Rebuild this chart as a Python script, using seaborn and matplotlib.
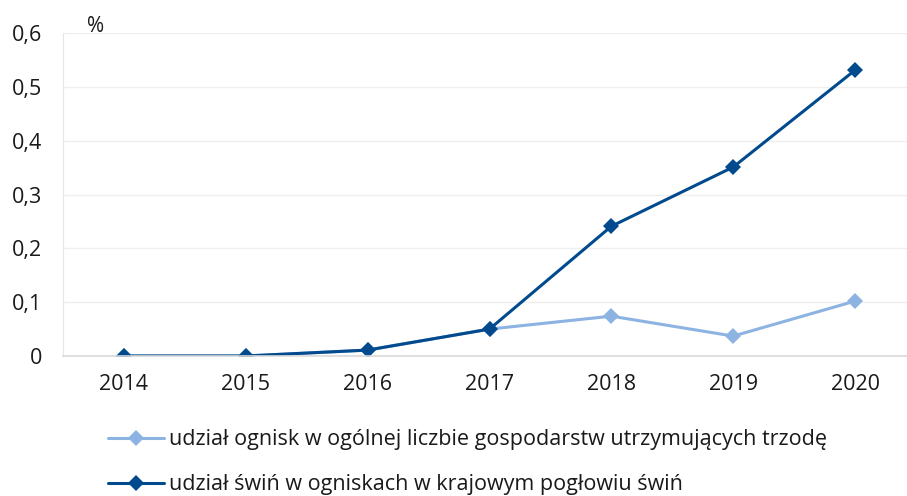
import matplotlib
matplotlib.use("Agg")
import matplotlib.pyplot as plt
import seaborn as sns
import pandas as pd
from matplotlib.lines import Line2D

years = ["2014", "2015", "2016", "2017", "2018", "2019", "2020"]
share_outbreaks = [0.0, 0.0, 0.011, 0.05, 0.074, 0.037, 0.102]
share_pigs = [0.0, 0.0, 0.011, 0.05, 0.241, 0.351, 0.531]
series_names = [
    "udział ognisk w ogólnej liczbie gospodarstw utrzymujących trzodę",
    "udział świń w ogniskach w krajowym pogłowiu świń",
]
yticks = [0, 0.1, 0.2, 0.3, 0.4, 0.5, 0.6]
ytick_labels = ["0", "0,1", "0,2", "0,3", "0,4", "0,5", "0,6"]

light = "#8DB3E2"
dark = "#004A8D"

df = pd.DataFrame({
    "rok": years * 2,
    "x": list(range(len(years))) * 2,
    "wartosc": share_outbreaks + share_pigs,
    "seria": [series_names[0]] * len(years) + [series_names[1]] * len(years),
})

sns.set_style("white")
plt.rcParams["font.family"] = ["Open Sans", "DejaVu Sans"]

fig = plt.figure(figsize=(9.07, 4.96), dpi=100)
ax = fig.add_axes([63 / 907, 1 - 356 / 496, (916 - 63) / 907, (356 - 33) / 496])

sns.lineplot(data=df, x="x", y="wartosc", hue="seria", palette=[light, dark],
             style="seria", markers=["D", "D"], dashes=False, markersize=8,
             markeredgewidth=0, linewidth=2.2, ax=ax, legend=False)

ax.set_xlim(-0.5, 6.5)
ax.set_ylim(0, 0.6)
ax.set_xticks(range(len(years)))
ax.set_xticklabels(years)
ax.set_yticks(yticks)
ax.set_yticklabels(ytick_labels)
ax.tick_params(axis="both", length=0, labelsize=15.5, colors="#1a1a1a")
ax.tick_params(axis="y", pad=15)
ax.tick_params(axis="x", pad=13)
ax.set_xlabel("")
ax.set_ylabel("")
ax.grid(axis="y", color="#EFEFEF", linewidth=1)
ax.set_axisbelow(True)
for s in ["top", "right"]:
    ax.spines[s].set_visible(False)
ax.spines["left"].set_color("#E6E6E6")
ax.spines["bottom"].set_color("#D9D9D9")
ax.spines["bottom"].set_linewidth(1.2)

fig.text(87 / 907, 1 - 26 / 496, "%", fontsize=15, va="center", ha="left", color="#1a1a1a")

handles = [Line2D([], [], color=c, marker="D", markersize=8, markeredgewidth=0, linewidth=2.2)
           for c in [light, dark]]
leg = fig.legend(handles, series_names, loc="upper left", bbox_to_anchor=(89 / 907, 1 - 410 / 496),
                 frameon=False, handlelength=2.6, handletextpad=0.2, labelspacing=1.1,
                 prop={"size": 15.5})
for t in leg.get_texts():
    t.set_color("#1a1a1a")

fig.savefig("out.png", dpi=100)
